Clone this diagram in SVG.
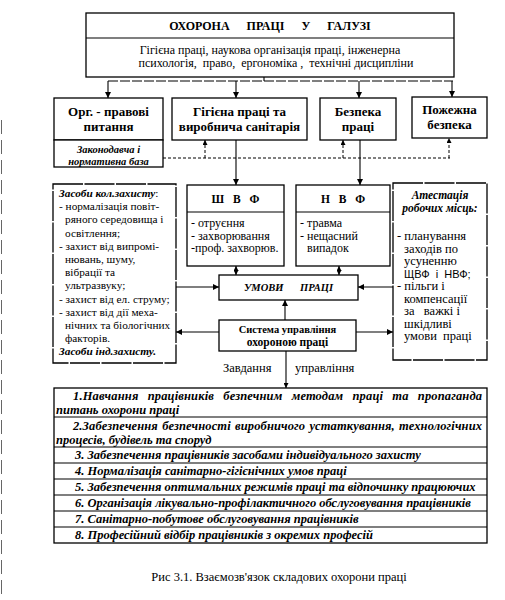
<svg xmlns="http://www.w3.org/2000/svg" width="505" height="600" viewBox="0 0 505 600">
<defs>
<marker id="ah" viewBox="0 0 10 10" refX="10" refY="5" markerWidth="6" markerHeight="6" markerUnits="userSpaceOnUse" orient="auto-start-reverse"><path d="M0,0 L10,5 L0,10 z" fill="#000"/></marker>
<marker id="ahs" viewBox="0 0 10 10" refX="10" refY="5" markerWidth="5" markerHeight="5" markerUnits="userSpaceOnUse" orient="auto-start-reverse"><path d="M0,0 L10,5 L0,10 z" fill="#000"/></marker>
</defs>
<style>
.bx{fill:#fff;stroke:#000;stroke-width:1.3}
.ln{fill:none;stroke:#000;stroke-width:1.1}
.dl{fill:none;stroke:#000;stroke-width:1;stroke-dasharray:3,2}
.dt{fill:none;stroke:#000;stroke-width:1;stroke-dasharray:10,2}
text{font-family:"Liberation Serif","Times New Roman",serif;fill:#000}
.b{font-weight:bold}
.bi{font-weight:bold;font-style:italic}
.c{text-anchor:middle}
.s{font-size:12px}
.l{font-size:12.5px}
.k{font-size:11.3px}
.m{font-size:13px;font-weight:bold;text-anchor:middle}
.tb{font-size:12.5px;font-weight:bold;font-style:italic}
</style>
<rect width="505" height="600" fill="#fff"/>
<line x1="1.5" y1="120" x2="1.5" y2="600" stroke="#666" stroke-width="1" stroke-dasharray="14,6"/>

<g id="top">
<rect class="bx" x="86" y="13" width="368" height="64"/>
<line class="ln" x1="86" y1="38" x2="454" y2="38"/>
<text class="b c" x="270" y="30" font-size="12" word-spacing="14">ОХОРОНА ПРАЦІ У ГАЛУЗІ</text>
<text class="c" x="270" y="54" font-size="12">Гігієна праці,  наукова організація праці,  інженерна</text>
<text class="c" x="276" y="67" font-size="12" xml:space="preserve">психологія,  право,  ергономіка ,  технічні дисципліни</text>
</g>

<g id="org">
<rect class="bx" x="54" y="98" width="109" height="42"/>
<text class="m" x="108.5" y="116">Орг. - правові</text>
<text class="m" x="108.5" y="131">питання</text>
<rect class="bx" x="54" y="140" width="109" height="27"/>
<text class="bi c" x="108.5" y="153" font-size="10.5">Законодавча і</text>
<text class="bi c" x="108.5" y="164.5" font-size="10.5">нормативна база</text>
</g>

<g id="gig">
<rect class="bx" x="172" y="98" width="135" height="42"/>
<text class="m" x="239.5" y="116">Гігієна праці та</text>
<text class="m" x="239.5" y="131">виробнича санітарія</text>
</g>

<g id="bez">
<rect class="bx" x="320" y="98" width="76" height="42"/>
<text class="m" x="358" y="116">Безпека</text>
<text class="m" x="358" y="131">праці</text>
</g>

<g id="pozh">
<rect class="bx" x="412" y="97" width="75" height="41"/>
<text class="m" x="449.5" y="114">Пожежна</text>
<text class="m" x="449.5" y="129">безпека</text>
</g>

<g id="kol">
<rect class="bx" x="53" y="184" width="123" height="179" stroke-dasharray="30,1.5"/>
<text class="k" x="59" y="197"><tspan class="bi">Засоби кол.захисту</tspan>:</text>
<text class="k" x="59" y="210.2">- нормалізація повіт-</text>
<text class="k" x="65" y="223.4">ряного середовища і</text>
<text class="k" x="65" y="236.6">освітлення;</text>
<text class="k" x="59" y="249.8">- захист від випромі-</text>
<text class="k" x="65" y="263">нювань, шуму,</text>
<text class="k" x="65" y="276.2">вібрації та</text>
<text class="k" x="65" y="289.4">ультразвуку;</text>
<text class="k" x="59" y="302.6">- захист від ел. струму;</text>
<text class="k" x="59" y="315.8">- захист від дії меха-</text>
<text class="k" x="65" y="329">нічних та біологічних</text>
<text class="k" x="65" y="342.2">факторів.</text>
<text class="k bi" x="59" y="355.4">Засоби інд.захисту.</text>
</g>

<g id="shvf">
<rect class="bx" x="187" y="185" width="97" height="81"/>
<line class="ln" x1="187" y1="212" x2="284" y2="212"/>
<text class="b c" x="235.5" y="203" font-size="11.5" word-spacing="6">Ш В Ф</text>
<text class="s" x="191" y="227">- отруєння</text>
<text class="s" x="191" y="239.5">- захворювання</text>
<text class="s" x="191" y="252">-проф. захворюв.</text>
</g>

<g id="nvf">
<rect class="bx" x="296" y="185" width="94" height="81"/>
<line class="ln" x1="296" y1="212" x2="390" y2="212"/>
<text class="b c" x="343" y="203" font-size="11.5" word-spacing="6">Н В Ф</text>
<text class="s" x="300" y="227">- травма</text>
<text class="s" x="300" y="239.5">- нещасний</text>
<text class="s" x="307" y="252">випадок</text>
</g>

<g id="atest">
<rect class="bx" x="393" y="183" width="94" height="177" stroke-dasharray="30,1.5"/>
<text class="bi c" x="440" y="199" font-size="11.5">Атестація</text>
<text class="bi c" x="440" y="212" font-size="11.5">робочих місць:</text>
<text class="l" x="397" y="240">- планування</text>
<text class="l" x="404" y="252.5">заходів по</text>
<text class="l" x="404" y="265">усуненню</text>
<text x="404" y="278" font-size="11" style="font-family:'Liberation Sans',Arial,sans-serif" xml:space="preserve">ЩВФ  і  НВФ;</text>
<text class="l" x="397" y="290">- пільги і</text>
<text class="l" x="404" y="302.5">компенсації</text>
<text class="l" x="404" y="315" xml:space="preserve">за   важкі і</text>
<text class="l" x="404" y="327.5">шкідливі</text>
<text class="l" x="404" y="340" xml:space="preserve">умови  праці</text>
</g>

<g id="umovy">
<rect class="bx" x="219" y="275" width="139" height="25"/>
<text class="bi c" x="288.5" y="291" font-size="10.5" word-spacing="14">УМОВИ ПРАЦІ</text>
</g>

<g id="sup">
<rect class="bx" x="219" y="320" width="137" height="31"/>
<text class="b c" x="287.5" y="333" font-size="10.5">Система управління</text>
<text class="b c" x="287.5" y="346" font-size="11.5">охороною праці</text>
</g>

<g id="labels">
<text x="223" y="372" font-size="12.5">Завдання</text>
<text x="295" y="372" font-size="12.5">управління</text>
</g>

<g id="table">
<rect class="bx" x="54" y="388" width="433" height="155"/>
<line class="ln" x1="54" y1="417" x2="487" y2="417"/>
<line class="ln" x1="54" y1="447" x2="487" y2="447"/>
<line class="ln" x1="54" y1="463" x2="487" y2="463"/>
<line class="ln" x1="54" y1="479" x2="487" y2="479"/>
<line class="ln" x1="54" y1="495" x2="487" y2="495"/>
<line class="ln" x1="54" y1="511" x2="487" y2="511"/>
<line class="ln" x1="54" y1="527" x2="487" y2="527"/>
<text class="tb" x="73" y="400" textLength="409" lengthAdjust="spacing" word-spacing="6">1.Навчання працівників безпечним методам праці та пропаганда</text>
<text class="tb" x="56" y="414">питань охорони праці</text>
<text class="tb" x="73" y="430" textLength="409" lengthAdjust="spacing" word-spacing="1">2.Забезпечення  безпечності виробничого устаткування, технологічних</text>
<text class="tb" x="56" y="444">процесів, будівель та споруд</text>
<text class="tb" x="75" y="459">3. Забезпечення працівників засобами індивідуального захисту</text>
<text class="tb" x="75" y="475">4. Нормалізація санітарно-гігієнічних умов праці</text>
<text class="tb" x="75" y="491">5. Забезпечення оптимальних режимів праці та відпочинку працюючих</text>
<text class="tb" x="75" y="507">6. Організація лікувально-профілактичного обслуговування працівників</text>
<text class="tb" x="75" y="523">7. Санітарно-побутове обслуговування працівників</text>
<text class="tb" x="75" y="539">8. Професійний відбір працівників з окремих професій</text>
</g>

<g id="connectors">
<line class="ln" x1="264" y1="77" x2="264" y2="81"/>
<line class="dt" x1="108" y1="81" x2="453" y2="81"/>
<line class="ln" x1="108" y1="81" x2="108" y2="98" marker-end="url(#ah)"/>
<line class="ln" x1="236" y1="81" x2="236" y2="98" marker-end="url(#ah)"/>
<line class="ln" x1="359" y1="81" x2="359" y2="98" marker-end="url(#ah)"/>
<line class="ln" x1="452" y1="81" x2="452" y2="97" marker-end="url(#ah)"/>
<line class="dl" x1="163" y1="158" x2="450" y2="158"/>
<line class="dl" x1="205" y1="158" x2="205" y2="140" marker-end="url(#ahs)"/>
<line class="dl" x1="343" y1="158" x2="343" y2="140" marker-end="url(#ahs)"/>
<line class="dl" x1="449" y1="158" x2="449" y2="138" marker-end="url(#ahs)"/>
<line class="ln" x1="236" y1="140" x2="236" y2="185" stroke-width="1.4" marker-end="url(#ah)"/>
<line class="ln" x1="360" y1="140" x2="360" y2="185" stroke-width="1.4" marker-end="url(#ah)"/>
<line class="ln" x1="236" y1="266" x2="236" y2="275" marker-start="url(#ahs)" marker-end="url(#ahs)"/>
<line class="ln" x1="339" y1="266" x2="339" y2="275" marker-start="url(#ahs)" marker-end="url(#ahs)"/>
<line class="ln" x1="176" y1="287" x2="219" y2="287" marker-end="url(#ah)"/>
<line class="ln" x1="393" y1="287" x2="358" y2="287" marker-end="url(#ah)"/>
<line class="ln" x1="285" y1="320" x2="285" y2="300" marker-end="url(#ah)"/>
<line class="ln" x1="219" y1="332" x2="176" y2="332" marker-end="url(#ah)"/>
<line class="ln" x1="356" y1="332" x2="393" y2="332" marker-end="url(#ah)"/>
<line class="ln" x1="286" y1="351" x2="286" y2="388" marker-end="url(#ahs)"/>
</g>

<text class="c" x="279" y="581" font-size="12.5">Рис 3.1. Взаємозв'язок складових охорони праці</text>
</svg>
